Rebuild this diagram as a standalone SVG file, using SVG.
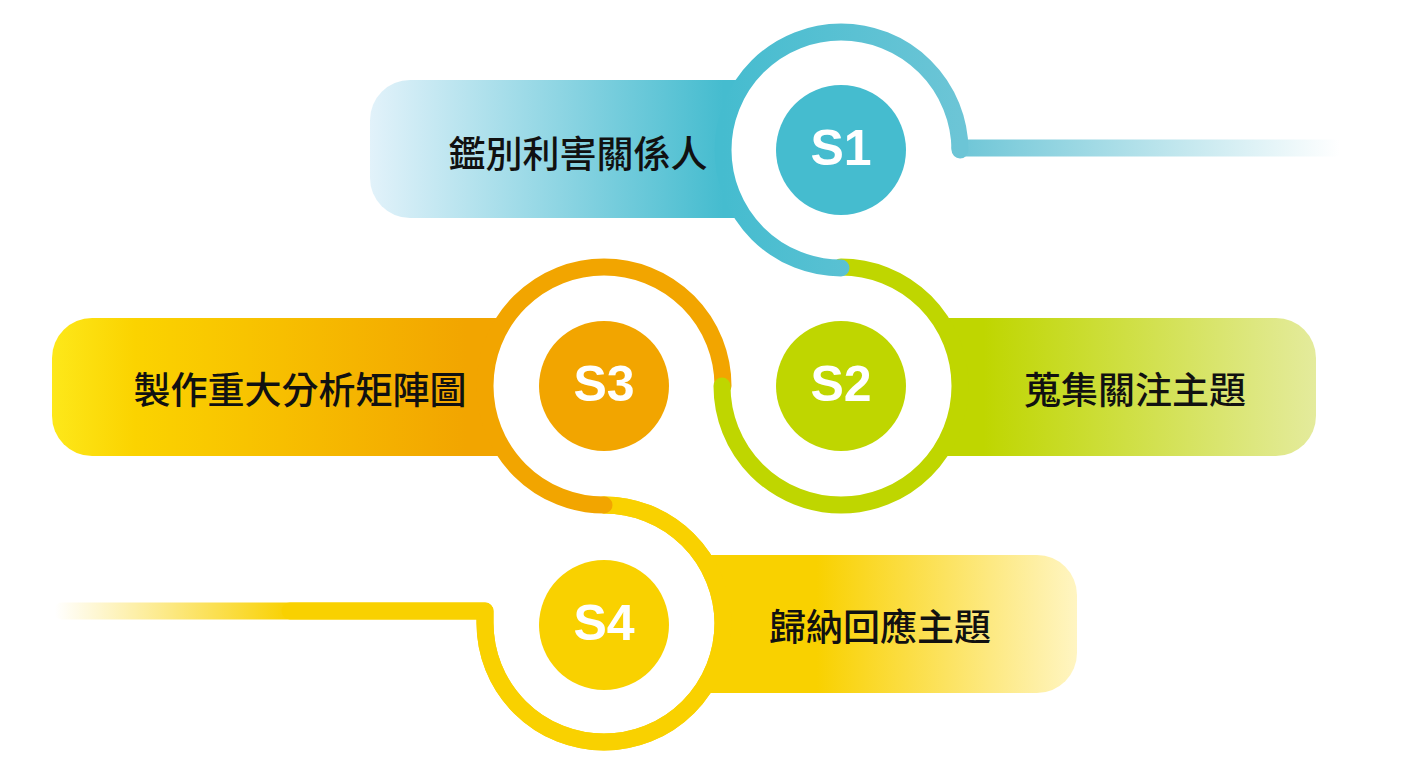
<svg xmlns="http://www.w3.org/2000/svg" width="1403" height="771" viewBox="0 0 1403 771">
<defs>
<linearGradient id="gb1" x1="370" y1="0" x2="841" y2="0" gradientUnits="userSpaceOnUse"><stop offset="0" stop-color="#e2f2fa"/><stop offset="0.75" stop-color="#45bccf"/></linearGradient>
<linearGradient id="gb2" x1="841" y1="0" x2="1316" y2="0" gradientUnits="userSpaceOnUse"><stop offset="0.3" stop-color="#bfd600"/><stop offset="1" stop-color="#e4eb9c"/></linearGradient>
<linearGradient id="gb3" x1="52" y1="0" x2="604" y2="0" gradientUnits="userSpaceOnUse"><stop offset="0" stop-color="#fde81a"/><stop offset="0.15" stop-color="#fbd300"/><stop offset="0.75" stop-color="#f2a500"/></linearGradient>
<linearGradient id="gb4" x1="604" y1="0" x2="1077" y2="0" gradientUnits="userSpaceOnUse"><stop offset="0.45" stop-color="#f9d100"/><stop offset="1" stop-color="#fff5c2"/></linearGradient>
<linearGradient id="l1" x1="955" y1="0" x2="1340" y2="0" gradientUnits="userSpaceOnUse"><stop offset="0" stop-color="#6cc5d6"/><stop offset="1" stop-color="#6cc5d6" stop-opacity="0"/></linearGradient>
<linearGradient id="r1" x1="723" y1="0" x2="960" y2="0" gradientUnits="userSpaceOnUse"><stop offset="0" stop-color="#45bccf"/><stop offset="1" stop-color="#6cc5d6"/></linearGradient>
<linearGradient id="l4" x1="55" y1="0" x2="290" y2="0" gradientUnits="userSpaceOnUse"><stop offset="0" stop-color="#f9d100" stop-opacity="0"/><stop offset="1" stop-color="#f9d100"/></linearGradient>
</defs>
<style>
.lab{font-family:"Noto Sans CJK TC","Noto Sans CJK SC",sans-serif;font-size:37px;font-weight:500;fill:#111;text-anchor:middle;dominant-baseline:central}
.s{font-family:"Liberation Sans",Arial,sans-serif;font-size:50px;font-weight:bold;fill:#fff;text-anchor:middle;dominant-baseline:central}
.ring{fill:none;stroke-width:17;stroke-linecap:round;stroke-linejoin:round}
</style>
<g id="bands">
<rect x="370" y="80" width="471" height="138" rx="40" fill="url(#gb1)"/>
<rect x="841" y="318" width="475" height="138" rx="40" fill="url(#gb2)"/>
<rect x="52" y="318" width="552" height="138" rx="40" fill="url(#gb3)"/>
<rect x="604" y="555" width="473" height="138" rx="40" fill="url(#gb4)"/>
<rect x="700" y="555" width="100" height="138" fill="#f9d100"/>
<circle cx="841" cy="150" r="119" fill="#fff"/>
<circle cx="841" cy="386" r="119" fill="#fff"/>
<circle cx="604" cy="386" r="119" fill="#fff"/>
<circle cx="604" cy="623" r="119" fill="#fff"/>
</g>
<g id="connectors">
<path class="ring" d="M604 505 A119 119 0 0 1 723 623 A119 119 0 0 1 604 742 A119 119 0 0 1 485 623 L485 611 L62 611" stroke="url(#l4)"/>
<path class="ring" d="M604 505 A119 119 0 0 1 723 623 A119 119 0 0 1 604 742 A119 119 0 0 1 485 623 L485 611 L290 611" stroke="#f9d100"/>
<path class="ring" d="M723 386 A119 119 0 0 0 604 267 A119 119 0 0 0 485 386 A119 119 0 0 0 604 505" stroke="#f2a500"/>
<path class="ring" d="M841 267 A119 119 0 0 1 960 386 A119 119 0 0 1 841 505 A119 119 0 0 1 722 386" stroke="#bfd600"/>
<path class="ring" d="M960 148 L1335 148" stroke="url(#l1)"/>
<path class="ring" d="M841 268 A118 118 0 0 1 723 150 A118 118 0 0 1 841 32 A119 119 0 0 1 960 150" stroke="url(#r1)"/>
</g>
<g id="S1"><circle cx="841" cy="150" r="65" fill="#45bccf"/><text class="s" x="841" y="148">S1</text><text class="lab" x="578" y="152">鑑別利害關係人</text></g>
<g id="S2"><circle cx="841" cy="386" r="65" fill="#bfd600"/><text class="s" x="841" y="384">S2</text><text class="lab" x="1135" y="388">蒐集關注主題</text></g>
<g id="S3"><circle cx="604" cy="386" r="65" fill="#f2a500"/><text class="s" x="604" y="384">S3</text><text class="lab" x="300" y="388">製作重大分析矩陣圖</text></g>
<g id="S4"><circle cx="604" cy="625" r="65" fill="#f9d100"/><text class="s" x="604" y="623">S4</text><text class="lab" x="880" y="625">歸納回應主題</text></g>
</svg>
